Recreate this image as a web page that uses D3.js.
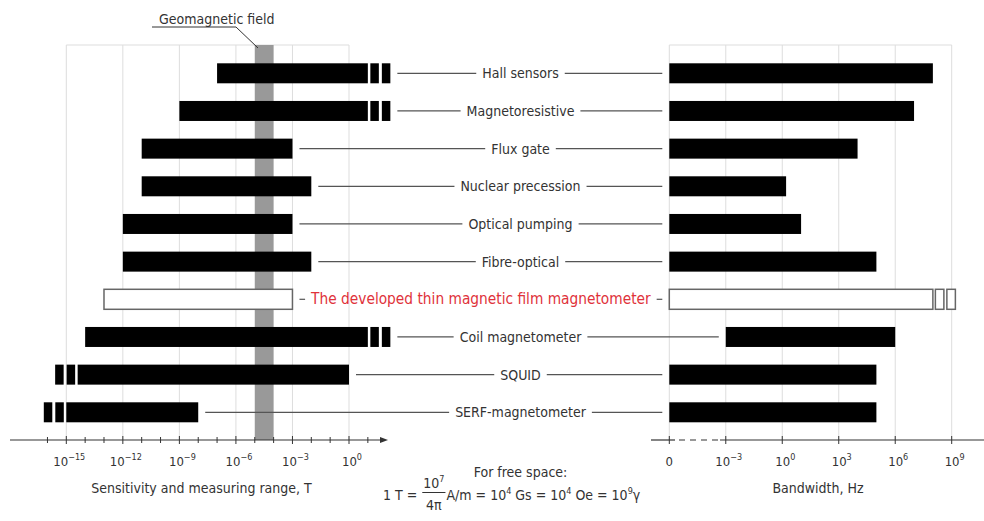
<!DOCTYPE html>
<head>
<meta charset="utf-8">
<script src="https://cdn.jsdelivr.net/npm/d3@7"></script>
<style>
body {
  margin: 0;
  background: #fff;
}
svg {
  font-family: "Liberation Sans Narrow", "DejaVu Sans Condensed", sans-serif;
  fill: #333;
}
.grid line {
  stroke: #ddd;
  stroke-width: 1;
}
.conn {
  stroke: #555;
  stroke-width: 1.2;
}
.lbl {
  font-size: 14px;
  fill: #333;
}
.lbl.hot {
  font-size: 15.3px;
  fill: #e0323a;
}
</style>
</head>
<body>
<div id="chart"></div>
<script>

// --- data ---
const sensors = ["Hall sensors", "Magnetoresistive", "Flux gate", "Nuclear precession",
  "Optical pumping", "Fibre-optical", "The developed thin magnetic film magnetometer",
  "Coil magnetometer", "SQUID", "SERF-magnetometer"];
const rangeLo = [1e-7, 1e-9, 1e-11, 1e-11, 1e-12, 1e-12, 1e-13, 1e-14, 4e-15, 1e-15];   // T
const rangeHi = [10, 10, 1e-3, 1e-2, 1e-3, 1e-2, 1e-3, 10, 1, 1e-8];                   // T
const rangeBreak = ["right", "right", "", "", "", "", "", "right", "left", "left"];
const bandLo = [0, 0, 0, 0, 0, 0, 0, 1e-3, 0, 0];                                       // Hz
const bandHi = [1e8, 1e7, 1e4, 1.6, 10, 1e5, 1e8, 1e6, 1e5, 1e5];                      // Hz
const bandBreak = ["", "", "", "", "", "", "right", "", "", ""];
const highlight = "The developed thin magnetic film magnetometer";
const geoField = [1e-5, 1e-4];
const rangeTicks = [-15, -12, -9, -6, -3, 0];          // exponents
const rangeMinor = d3.range(-16, 2);                  // one per decade
const bandTicks = [0, 1e-3, 1, 1e3, 1e6, 1e9];         // 0 drawn at the left end
const bandTickLabels = ["0", "−3", "0", "3", "6", "9"];

const W = 984, H = 521;
const topY = 45, axisY = 440;

const svg = d3.select("#chart").append("svg")
    .attr("width", W)
    .attr("height", H);

const xL = d3.scaleLog().domain([1e-15, 1]).range([66.3, 349]);
const xR = d3.scaleLog().domain([1e-6, 1e9]).range([669.3, 951.7]);
const xBand = v => v === 0 ? xR.range()[0] : xR(v);   // "0" sits at the left end
const y = d3.scalePoint().domain(sensors).range([73.3, 412.3]);
const barH = 20;

// grids
const gridL = svg.append("g").attr("class", "grid");
gridL.selectAll("line.v").data(rangeTicks).enter().append("line")
    .attr("x1", d => xL(Math.pow(10, d))).attr("x2", d => xL(Math.pow(10, d)))
    .attr("y1", topY).attr("y2", axisY);
gridL.append("line").attr("x1", xL(1e-15)).attr("x2", xL(1)).attr("y1", topY).attr("y2", topY);

const rightPos = bandTicks.map(xBand);
const gridR = svg.append("g").attr("class", "grid");
gridR.selectAll("line.v").data(rightPos).enter().append("line")
    .attr("x1", d => d).attr("x2", d => d)
    .attr("y1", topY).attr("y2", axisY);
gridR.append("line").attr("x1", rightPos[0]).attr("x2", rightPos[5]).attr("y1", topY).attr("y2", topY);

// geomagnetic field band
svg.append("rect")
    .attr("x", xL(geoField[0]))
    .attr("width", xL(geoField[1]) - xL(geoField[0]))
    .attr("y", topY)
    .attr("height", axisY - topY)
    .attr("fill", "#999");

svg.append("text")
    .attr("x", 159).attr("y", 24)
    .attr("font-size", 14)
    .attr("fill", "#333")
    .text("Geomagnetic field");
svg.append("polyline")
    .attr("points", [[152, 27], [236, 27], [258, 48]].join(" "))
    .attr("fill", "none").attr("stroke", "#333").attr("stroke-width", 1);

// bars with broken ends
function drawBar(g, x0, x1, cy, brk, open) {
  const fill = open ? "#fff" : "#000";
  const stroke = open ? "#666" : "none";
  g.append("rect")
      .attr("x", x0).attr("y", cy - barH / 2)
      .attr("width", x1 - x0).attr("height", barH)
      .attr("fill", fill).attr("stroke", stroke).attr("stroke-width", 1.5);
  let blocks = [];
  if (brk === "right") blocks = [[x1 + 2.5, x1 + 11], [x1 + 14, x1 + 22.5]];
  if (brk === "left") blocks = [[x0 - 11, x0 - 2.5], [x0 - 22.5, x0 - 14]];
  blocks.forEach(b => {
    g.append("rect")
        .attr("x", b[0]).attr("y", cy - barH / 2)
        .attr("width", b[1] - b[0]).attr("height", barH)
        .attr("fill", fill).attr("stroke", stroke).attr("stroke-width", 1.5);
  });
  if (brk === "right") return [x0, x1 + 22.5];
  if (brk === "left") return [x0 - 22.5, x1];
  return [x0, x1];
}

const rows = svg.append("g");
sensors.forEach((name, i) => {
  const cy = y(name);
  const open = name === highlight;
  const g = rows.append("g");
  const l = drawBar(g, xL(rangeLo[i]), xL(rangeHi[i]), cy, rangeBreak[i], open);
  const r = drawBar(g, xBand(bandLo[i]), xBand(bandHi[i]), cy, bandBreak[i], open);

  const t = g.append("text")
      .attr("class", open ? "lbl hot" : "lbl")
      .attr("y", cy + 5)
      .attr("text-anchor", "middle")
      .text(name);
  const tw = t.node().getComputedTextLength();
  const a = l[1] + 7, b = r[0] - 7;
  let cx = 520.5;
  if (cx - tw / 2 - 10 < a || cx + tw / 2 + 10 > b) cx = (a + b) / 2;
  t.attr("x", cx);
  g.append("line").attr("class", "conn")
      .attr("x1", a).attr("x2", cx - tw / 2 - 6).attr("y1", cy).attr("y2", cy);
  g.append("line").attr("class", "conn")
      .attr("x1", cx + tw / 2 + 6).attr("x2", b).attr("y1", cy).attr("y2", cy);
});

// --- left axis ---
const axL = svg.append("g");
axL.append("line").attr("x1", 10).attr("x2", 381).attr("y1", axisY).attr("y2", axisY)
    .attr("stroke", "#333").attr("stroke-width", 1.2);
axL.append("path").attr("d", "M388," + axisY + "L380," + (axisY - 3) + "L380," + (axisY + 3) + "Z")
    .attr("fill", "#333");
axL.selectAll("line.mn").data(rangeMinor).enter().append("line")
    .attr("x1", d => xL(Math.pow(10, d))).attr("x2", d => xL(Math.pow(10, d)))
    .attr("y1", d => axisY - (d % 3 === 0 ? 4 : 3)).attr("y2", d => axisY + (d % 3 === 0 ? 4 : 3))
    .attr("stroke", "#333").attr("stroke-width", 1);

function powLabel(g, x, yy, exp) {
  const t = g.append("text").attr("x", x).attr("y", yy).attr("text-anchor", "middle")
      .attr("font-size", 13).attr("fill", "#333");
  t.append("tspan").text("10");
  t.append("tspan").attr("font-size", 9).attr("dy", -6).text(exp);
  return t;
}
rangeTicks.forEach(e => {
  powLabel(axL, xL(Math.pow(10, e)) + 3, 466, String(e).replace("-", "−"));
});
axL.append("text").attr("x", 201.5).attr("y", 493).attr("text-anchor", "middle")
    .attr("font-size", 14).attr("fill", "#333")
    .text("Sensitivity and measuring range, T");

// --- right axis ---
const axR = svg.append("g");
axR.append("line").attr("x1", 651).attr("x2", 675).attr("y1", axisY).attr("y2", axisY)
    .attr("stroke", "#333").attr("stroke-width", 1.2);
axR.append("line").attr("x1", 679).attr("x2", 720).attr("y1", axisY).attr("y2", axisY)
    .attr("stroke", "#333").attr("stroke-width", 1.2).attr("stroke-dasharray", "6,5");
axR.append("line").attr("x1", 720).attr("x2", W).attr("y1", axisY).attr("y2", axisY)
    .attr("stroke", "#333").attr("stroke-width", 1.2);
axR.selectAll("line.tk").data(rightPos).enter().append("line")
    .attr("x1", d => d).attr("x2", d => d)
    .attr("y1", axisY - 4).attr("y2", axisY + 4)
    .attr("stroke", "#333").attr("stroke-width", 1);
bandTickLabels.forEach((s, i) => {
  if (i === 0) {
    axR.append("text").attr("x", rightPos[0]).attr("y", 466).attr("text-anchor", "middle")
        .attr("font-size", 13).attr("fill", "#333").text(s);
  } else {
    powLabel(axR, rightPos[i] + 3, 466, s);
  }
});
axR.append("text").attr("x", 818).attr("y", 493).attr("text-anchor", "middle")
    .attr("font-size", 14).attr("fill", "#333")
    .text("Bandwidth, Hz");

// --- free space note ---
const note = svg.append("g").attr("font-size", 14).attr("fill", "#333");
note.append("text").attr("x", 520.5).attr("y", 477).attr("text-anchor", "middle")
    .text("For free space:");
let nx = 383;
const t1 = note.append("text").attr("x", nx).attr("y", 500).text("1 T =");
nx += t1.node().getComputedTextLength() + 5;
const num = note.append("text").attr("y", 488).attr("text-anchor", "middle");
num.append("tspan").text("10");
num.append("tspan").attr("font-size", 9).attr("dy", -6).text("7");
const den = note.append("text").attr("y", 510).attr("text-anchor", "middle").text("4π");
const fw = Math.max(num.node().getComputedTextLength(), den.node().getComputedTextLength()) + 2;
num.attr("x", nx + fw / 2);
den.attr("x", nx + fw / 2);
note.append("line").attr("x1", nx).attr("x2", nx + fw).attr("y1", 492.5).attr("y2", 492.5)
    .attr("stroke", "#333").attr("stroke-width", 1);
nx += fw + 1;
const t2 = note.append("text").attr("x", nx).attr("y", 500);
t2.append("tspan").text("A/m = 10");
t2.append("tspan").attr("font-size", 9).attr("dy", -6).text("4");
t2.append("tspan").attr("dy", 6).text(" Gs = 10");
t2.append("tspan").attr("font-size", 9).attr("dy", -6).text("4");
t2.append("tspan").attr("dy", 6).text(" Oe = 10");
t2.append("tspan").attr("font-size", 9).attr("dy", -6).text("9");
t2.append("tspan").attr("dy", 6).text("γ");

</script>
</body>
